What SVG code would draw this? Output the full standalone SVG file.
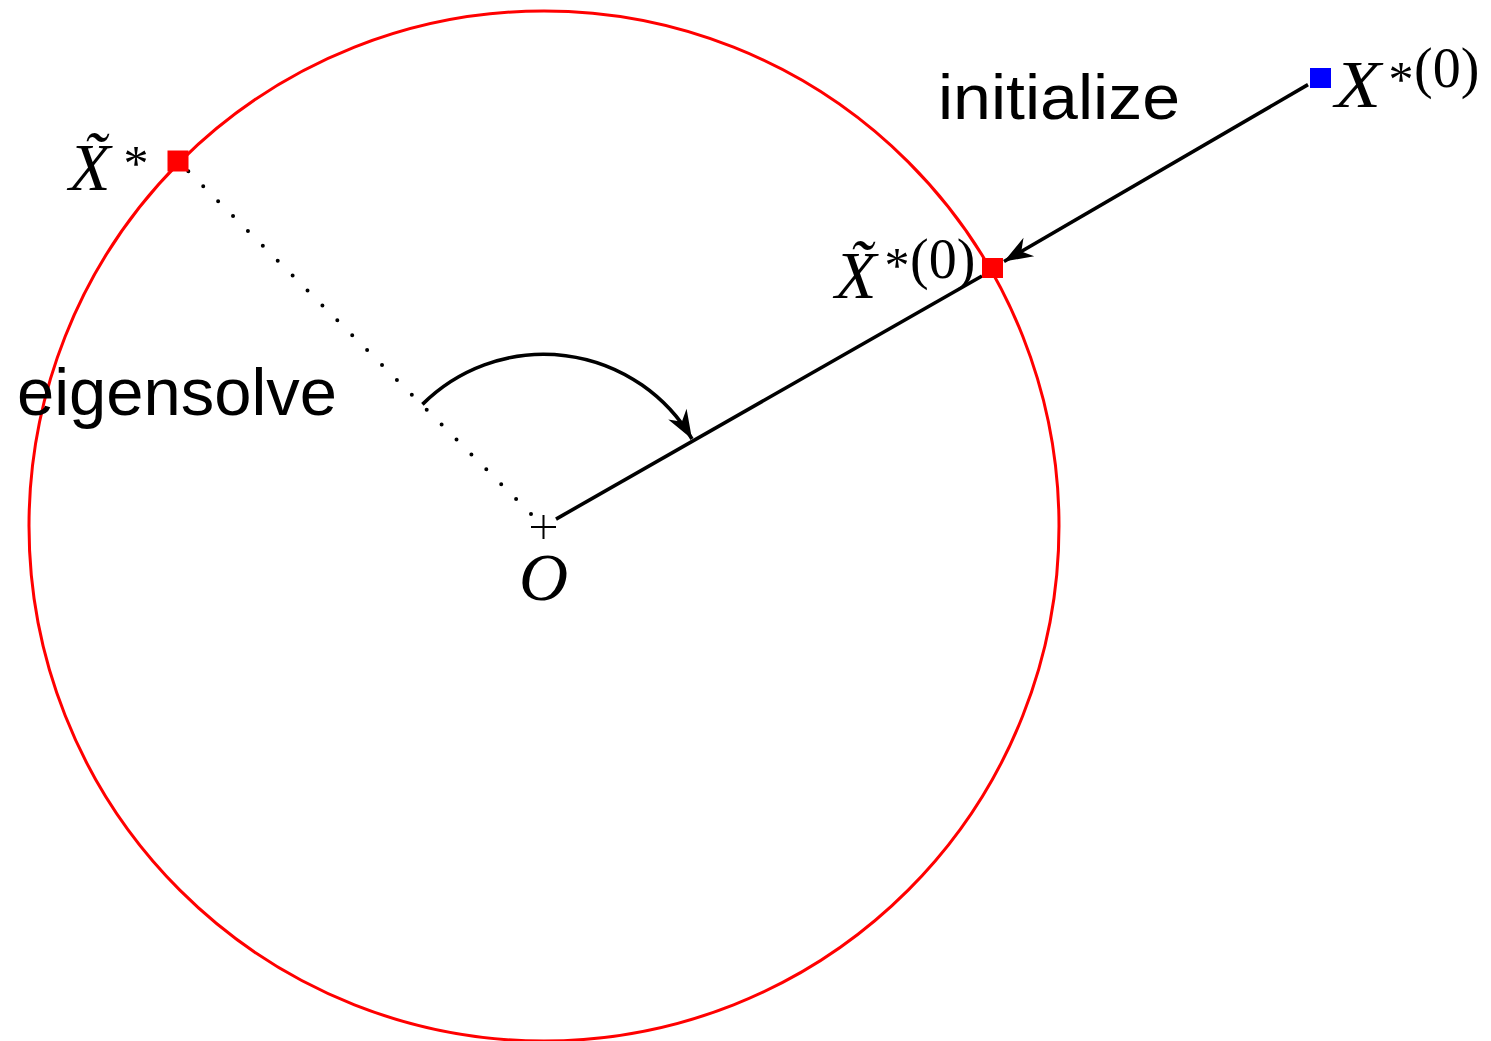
<svg xmlns="http://www.w3.org/2000/svg" width="1491" height="1041" viewBox="0 0 1491 1041">
  <style>
    .sans { font-family: "Liberation Sans", Arial, sans-serif; fill: #000; }
    .mi { font-family: "Liberation Serif", "Times New Roman", serif; font-style: italic; fill: #000; }
    .rm { font-family: "Liberation Serif", "Times New Roman", serif; fill: #000; }
    .ln { stroke: #000; stroke-width: 3.6; fill: none; }
  </style>
  <defs>
    <marker id="arr" markerUnits="userSpaceOnUse" markerWidth="40" markerHeight="30" viewBox="-26 -12 30 24" refX="0" refY="0" orient="auto">
      <path d="M0,0 L-23,-8.5 L-16,0 L-23,8.5 Z" fill="#000"/>
    </marker>
  </defs>
  <rect width="1491" height="1041" fill="#fff"/>

  <g id="sphere">
    <circle cx="544" cy="526" r="515" fill="none" stroke="#ff0000" stroke-width="3"/>
  </g>

  <g id="connectors">
    <path id="dotted" d="M531,514 L178,161" stroke="#000" stroke-width="4" stroke-linecap="round" stroke-dasharray="0 21.07" fill="none"/>
    <path id="radius" class="ln" d="M556,519.1 L982,276"/>
    <path id="init-arrow" class="ln" d="M1308,84.6 L1004,261.5" marker-end="url(#arr)"/>
    <path id="rotate-arc" class="ln" d="M422.4,404.4 A172,172 0 0 1 692,439" marker-end="url(#arr)"/>
  </g>

  <g id="origin">
    <path d="M531,527 L556,527 M543.5,515 L543.5,539" stroke="#000" stroke-width="2" fill="none"/>
    <text class="mi" x="519" y="600" font-size="68">O</text>
  </g>

  <g id="node-X0">
    <rect x="1310" y="68" width="21" height="20" fill="#0000ff"/>
    <text class="mi" x="1335" y="107" font-size="68" textLength="46" lengthAdjust="spacingAndGlyphs">X</text>
    <text class="rm" x="1388.5" y="96" font-size="50">*</text>
    <text class="rm" x="1414" y="87" font-size="56">(0)</text>
  </g>

  <g id="node-Xt0">
    <rect x="982" y="258" width="21" height="20" fill="#ff0000"/>
    <text class="mi" x="835" y="298" font-size="68">X̃</text>
    <text class="rm" x="884.5" y="282" font-size="50">*</text>
    <text class="rm" x="910" y="278" font-size="56">(0)</text>
  </g>

  <g id="node-Xt">
    <rect x="167.5" y="150.5" width="21" height="21" fill="#ff0000"/>
    <text class="mi" x="69" y="190" font-size="68">X̃</text>
    <text class="rm" x="123.5" y="180" font-size="50">*</text>
  </g>

  <g id="labels">
    <text class="sans" x="938" y="119" font-size="63" textLength="242" lengthAdjust="spacingAndGlyphs">initialize</text>
    <text class="sans" x="17" y="415" font-size="67" textLength="320" lengthAdjust="spacingAndGlyphs">eigensolve</text>
  </g>
</svg>
